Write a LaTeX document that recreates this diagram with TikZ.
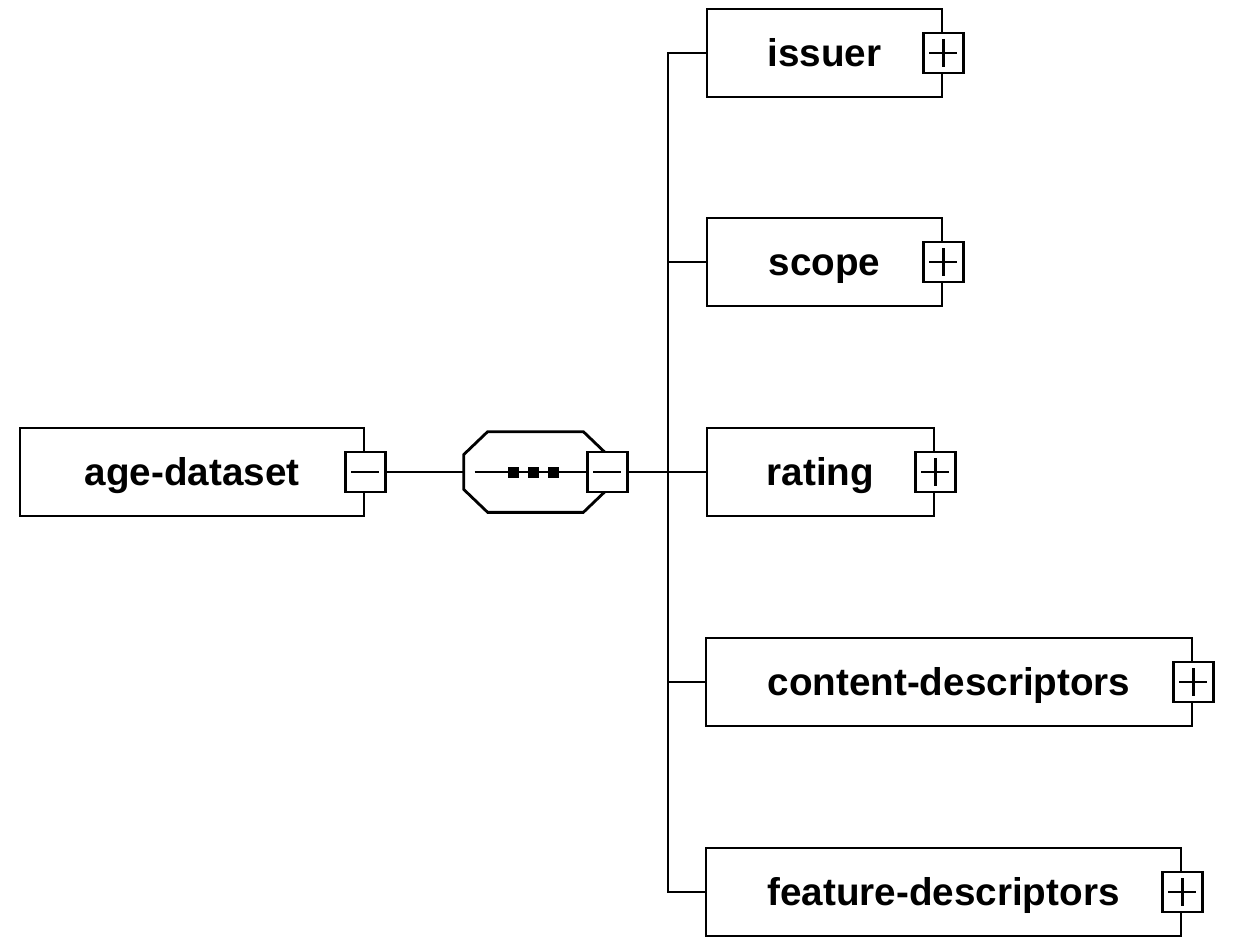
\documentclass[tikz,border=0pt]{standalone}
\usepackage{fontspec}
\setmainfont{Liberation Sans}
\usetikzlibrary{calc,positioning}
\tikzstyle{elem}  =[draw, line width=1.6pt, minimum height=1.76cm,
                    inner sep=0pt, text height=0.54cm, text depth=0pt,
                    font=\bfseries\fontsize{22}{26}\selectfont]
\tikzstyle{tog}   =[draw, fill=white, line width=1.6pt,
                    minimum size=0.8cm, inner sep=0pt]
\tikzstyle{edge}  =[line width=1.6pt]
\tikzstyle{sign}  =[line width=1.4pt]

\begin{document}
\begin{tikzpicture}[x=0.02cm, y=-0.02cm]
    \useasboundingbox (0,0) rectangle (1233,936);

    \draw (192,472) node (root) [elem, minimum width=6.88cm] {age-dataset};
    \draw (535.5,472) node (seq) [minimum width=2.86cm, minimum height=1.6cm, inner sep=0pt] {};
    \draw (824.5,53) node (issuer) [elem, minimum width=4.7cm] {issuer};
    \draw (824.5,262) node (scope) [elem, minimum width=4.7cm] {scope};
    \draw (820.5,472) node (rating) [elem, minimum width=4.54cm] {rating};
    \draw (949,682) node (content) [elem, minimum width=9.72cm] {content-descriptors};
    \draw (943.5,892) node (feature) [elem, minimum width=9.5cm] {feature-descriptors};
    \coordinate (bus) at (668,472);

    % sequence compositor
    \draw [edge] ($(seq.north west)+(24,0)$) -- ($(seq.north east)+(-24,0)$)
        -- ($(seq.north east)+(0,23)$) -- ($(seq.south east)+(0,-23)$)
        -- ($(seq.south east)+(-24,0)$) -- ($(seq.south west)+(24,0)$)
        -- ($(seq.south west)+(0,-23)$) -- ($(seq.north west)+(0,23)$) -- cycle;
    \draw [edge] ($(seq.west)+(11,0)$) -- ($(seq.east)+(-20,0)$);
    \foreach \d in {-22.5,-2.5,17.5}
        \fill ($(seq.center)+(\d-5.5,-5.5)$) rectangle +(11,11);

    % collapse / expand boxes
    \foreach \n in {root,seq} {
        \node (\n-x) [tog] at (\n.east) {};
        \draw [sign] ($(\n-x.center)+(-14,0)$) -- ($(\n-x.center)+(14,0)$);
    }
    \foreach \n in {issuer,scope,rating,content,feature} {
        \node (\n-x) [tog] at (\n.east) {};
        \draw [sign] ($(\n-x.center)+(-14,0)$) -- ($(\n-x.center)+(14,0)$)
                     ($(\n-x.center)+(0,-14)$) -- ($(\n-x.center)+(0,14)$);
    }

    \draw [edge] (root-x.east) -- (seq.west);
    \draw [edge] (seq-x.east) -- (bus);
    \foreach \n in {issuer,scope,rating,content,feature}
        \draw [edge] (bus) |- (\n.west);

\end{tikzpicture}
\end{document}
